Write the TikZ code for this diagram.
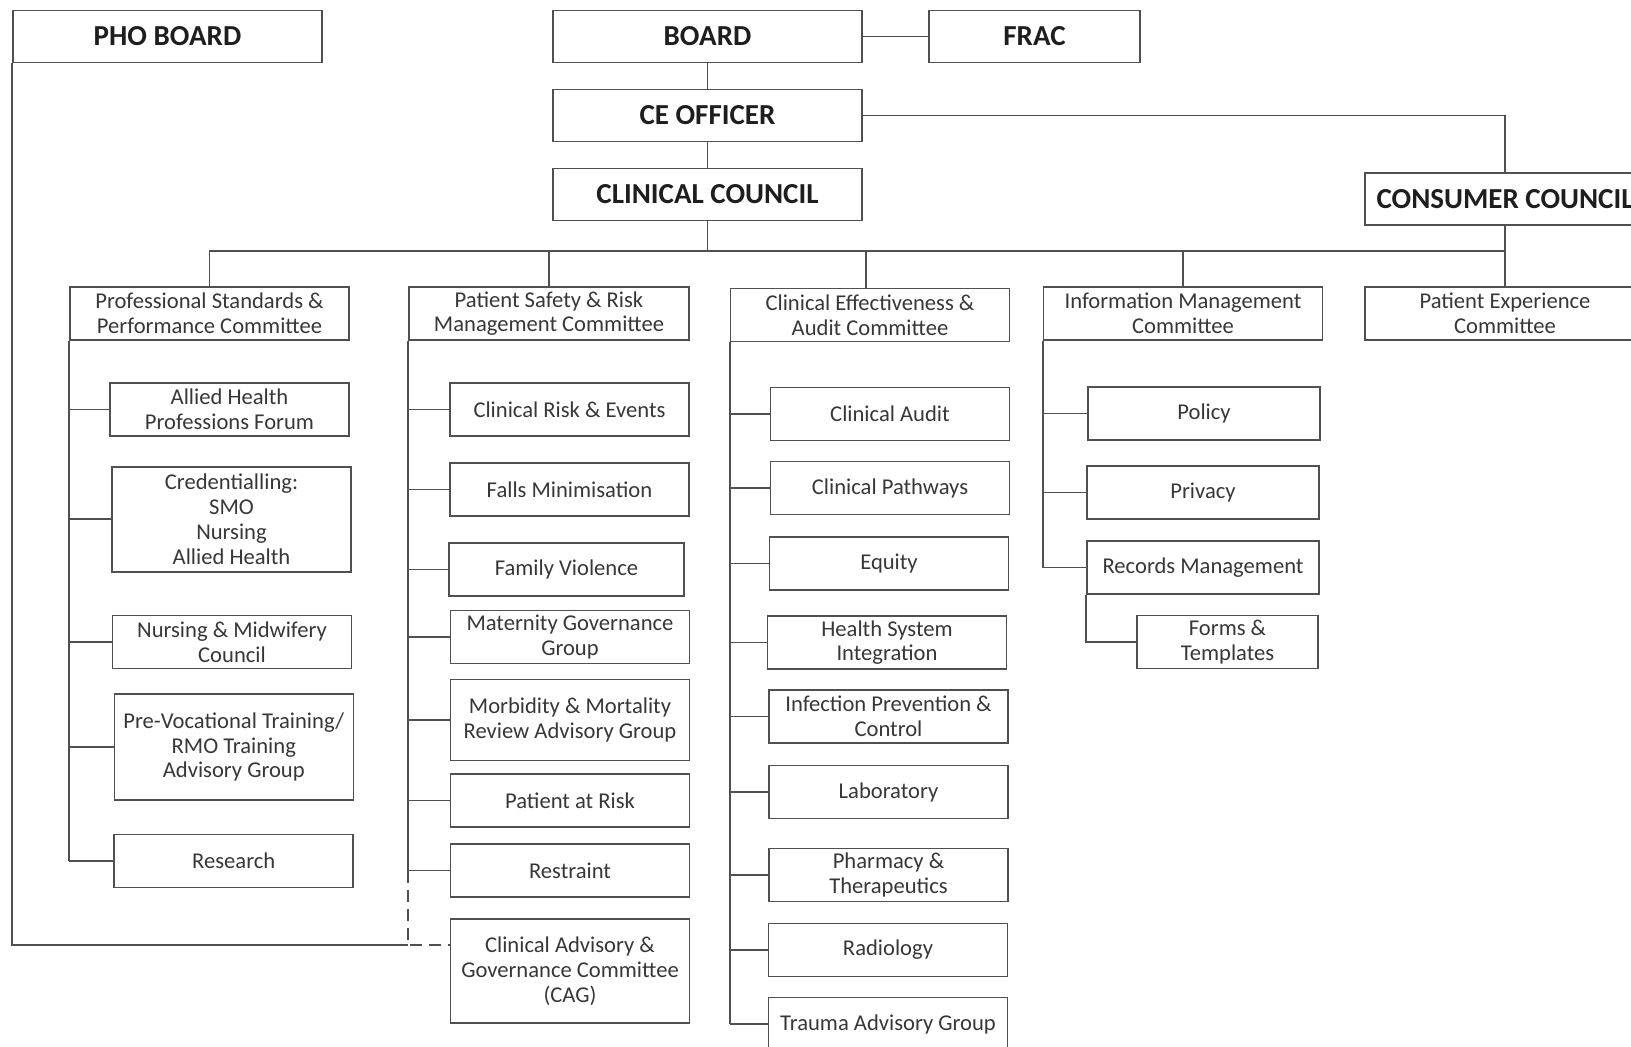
\documentclass[tikz,border=0pt]{standalone}
\usepackage{fontspec}
\setmainfont{Carlito}
\usetikzlibrary{positioning, calc}
\definecolor{linegray}{RGB}{80,80,80}
\definecolor{txtgray}{RGB}{55,55,55}
\definecolor{hdrdark}{RGB}{30,30,30}
\tikzset{
  box/.style={rectangle, draw=linegray, line width=0.8pt, align=center,
    inner sep=0pt, text=txtgray, font=\fontsize{11.3}{12.4}\selectfont},
  head/.style={box, minimum width=154.5pt, minimum height=26pt, text=hdrdark,
    font=\fontsize{14.5}{16}\selectfont\bfseries},
  cmte/.style={box, minimum width=139.5pt, minimum height=26.5pt},
  sub/.style={box, minimum width=119.5pt, minimum height=26.5pt},
  line/.style={line width=0.9pt, color=linegray},
  dashline/.style={line, dash pattern=on 6pt off 3.5pt}
}
\begin{document}
\begin{tikzpicture}[x=0.5pt, y=-0.5pt]
  \useasboundingbox (0,0) rectangle (1631,1046);
  \clip (0,0) rectangle (1631,1046);

  % Top level
  \node[head] (pho) at (167.5,36.4) {PHO BOARD};
  \node[head] (board) at (707.5,36.4) {BOARD};
  \node[head, minimum width=105.5pt] (frac) at (1034.5,36.4) {FRAC};
  \node[head] (ceo) at (707.5,115.5) {CE OFFICER};
  \node[head] (clin) at (707.5,194.5) {CLINICAL COUNCIL};
  \node[head, minimum width=140pt] (cons) at (1505,198.7) {CONSUMER COUNCIL};

  % Committees
  \node[cmte] (psc) at (209.5,313.5) {Professional Standards \&\\Performance Committee};
  \node[cmte, minimum width=140pt] (psr) at (549,313.5) {Patient Safety \& Risk\\Management Committee};
  \node[cmte] (cea) at (870,315) {Clinical Effectiveness \&\\Audit Committee};
  \node[cmte] (inf) at (1183,313.5) {Information Management\\Committee};
  \node[cmte, minimum width=140pt] (pex) at (1505,313.5) {Patient Experience\\Committee};

  % Column 1
  \node[sub] (ahp) at (229.5,409.5) {Allied Health\\Professions Forum};
  \node[sub, minimum height=52.5pt] (cred) at (231.5,519.3) {Credentialling:\\SMO\\Nursing\\Allied Health};
  \node[sub] (nmc) at (232,642) {Nursing \& Midwifery\\Council};
  \node[sub, minimum height=53pt] (pvt) at (233.8,747) {Pre-Vocational Training/\\RMO Training\\Advisory Group};
  \node[sub] (res) at (233.7,861) {Research};

  % Column 2
  \node[sub] (cre) at (569.5,409.5) {Clinical Risk \& Events};
  \node[sub] (fal) at (569.5,489.5) {Falls Minimisation};
  \node[sub, minimum width=117.5pt] (fvi) at (566.5,569.5) {Family Violence};
  \node[sub] (mat) at (570,637) {Maternity Governance\\Group};
  \node[sub, minimum height=40.5pt] (mmr) at (570,720) {Morbidity \& Mortality\\Review Advisory Group};
  \node[sub] (par) at (570,800.5) {Patient at Risk};
  \node[sub] (rst) at (570,870.5) {Restraint};
  \node[sub, minimum height=52pt] (cag) at (570,971) {Clinical Advisory \&\\Governance Committee\\(CAG)};

  % Column 3
  \node[sub] (cau) at (890,414) {Clinical Audit};
  \node[sub] (cpw) at (890,488) {Clinical Pathways};
  \node[sub] (equ) at (889,563.5) {Equity};
  \node[sub] (hsi) at (887,642.5) {Health System\\Integration};
  \node[sub] (ipc) at (888.5,716.5) {Infection Prevention \&\\Control};
  \node[sub] (lab) at (888.5,792) {Laboratory};
  \node[sub] (pht) at (888.5,875) {Pharmacy \&\\Therapeutics};
  \node[sub] (rad) at (888,950) {Radiology};
  \node[sub] (tag) at (888,1024) {Trauma Advisory Group};

  % Column 4
  \node[sub, minimum width=116pt] (pol) at (1204,413.5) {Policy};
  \node[sub, minimum width=116pt] (prv) at (1203,492.5) {Privacy};
  \node[sub, minimum width=116pt] (rec) at (1203,567.5) {Records Management};
  \node[sub, minimum width=90.5pt] (frm) at (1227.5,642) {Forms \&\\Templates};

  % Connections
  \draw[line] (board) -- (frac);
  \draw[line] (board) -- (ceo);
  \draw[line] (ceo) -- (clin);
  \draw[line] (ceo.east) -| (cons.north);
  \coordinate (bus) at (0,251);
  \draw[line] (clin.south) -- (clin.south |- bus);
  \draw[line] (psc.north) |- (pex.north |- bus) -- (pex.north);
  \draw[line] (cons) -- (pex);
  \draw[line] (psr.north) -- (psr.north |- bus);
  \draw[line] ([xshift=-2pt]cea.north) -- ([xshift=-2pt]cea.north |- bus);
  \draw[line] (inf.north) -- (inf.north |- bus);

  \draw[line] (psc.south west) -- (psc.south west |- res.west);
  \foreach \s in {ahp, cred, nmc, pvt, res}
    \draw[line] (psc.south west |- \s.west) -- (\s.west);

  \draw[line] (psr.south west) -- (psr.south west |- rst.west);
  \foreach \s in {cre, fal, fvi, mat, mmr, par, rst}
    \draw[line] (psr.south west |- \s.west) -- (\s.west);

  \draw[line] (cea.south west) -- (cea.south west |- tag.west);
  \foreach \s in {cau, cpw, equ, hsi, ipc, lab, pht, rad, tag}
    \draw[line] (cea.south west |- \s.west) -- (\s.west);

  \draw[line] (inf.south west) -- (inf.south west |- rec.west);
  \foreach \s in {pol, prv, rec}
    \draw[line] (inf.south west |- \s.west) -- (\s.west);
  \draw[line] (rec.south west) |- (frm.west);

  % PHO board link
  \coordinate (cagin) at ([yshift=13pt]cag.west);
  \coordinate (jn) at (psr.south west |- cagin);
  \draw[line] (pho.south west) |- (jn);
  \draw[dashline] (psr.south west |- rst.west) -- (jn) -- (cagin);
\end{tikzpicture}
\end{document}
